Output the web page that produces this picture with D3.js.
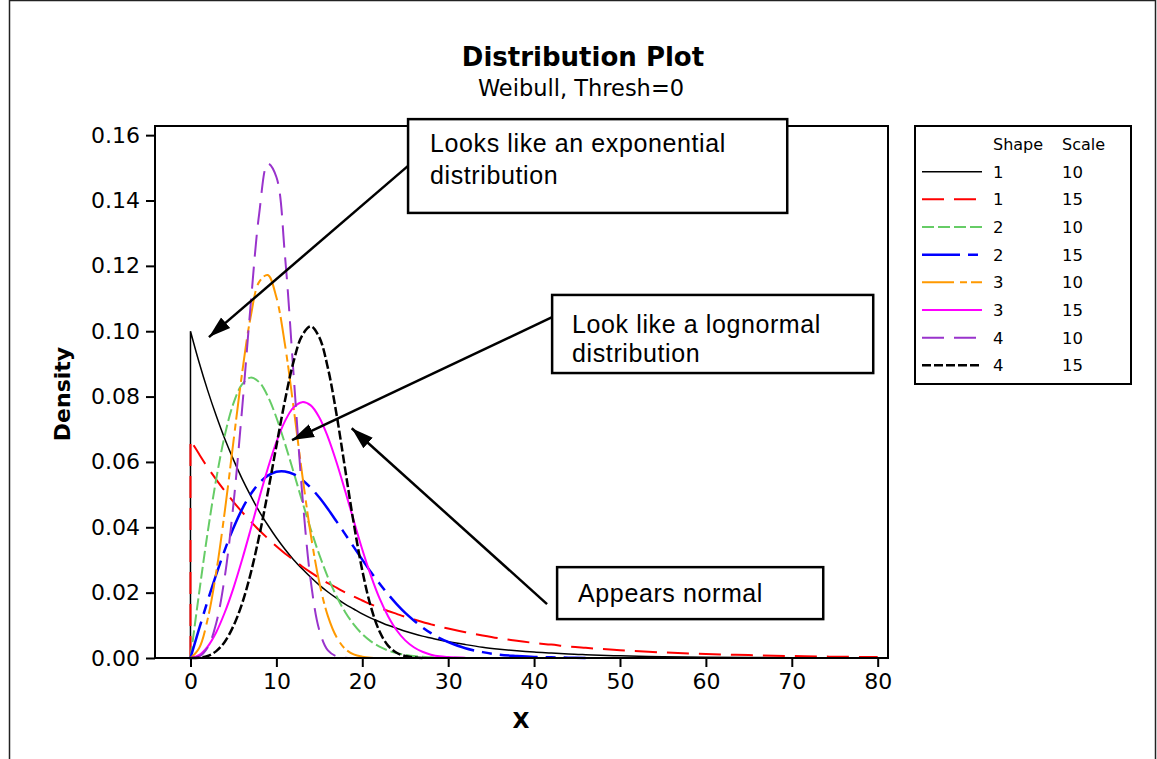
<!DOCTYPE html>
<html><head><meta charset="utf-8">
<script src="https://cdn.jsdelivr.net/npm/d3@7"></script>
<style>body{margin:0;background:#fff} svg{display:block}</style>
</head><body><svg id="c" width="1157" height="759"></svg>
<script>
// ---------- data ----------
const xGrid = [0,1,2,3,4,5,6,7,8,9,10,11,12,13,14,15,16,17,18,19,20,21,22,23,24,25,26,27,28,29,30,
  32,34,36,38,40,42,44,46,50,55,60,65,70,75,80];
const seriesShape = [1,1,2,2,3,3,4,4];
const seriesScale = [10,15,10,15,10,15,10,15];
const dens_1_10 = [0.1000,0.0905,0.0819,0.0741,0.0670,0.0607,0.0549,0.0497,0.0449,0.0407,0.0368,0.0333,0.0301,0.0273,0.0247,0.0223,0.0202,0.0183,0.0165,0.0150,0.0135,0.0122,0.0111,0.0100,0.0091,0.0082,0.0074,0.0067,0.0061,0.0055,0.0050,
  0.0041,0.0033,0.0027,0.0022,0.0018,0.0015,0.0012,0.0010,0.00067,0.00041,0.00025,0.00015,0.00009,0.00006,0.00003];
const dens_1_15 = [0.0667,0.0624,0.0583,0.0546,0.0511,0.0478,0.0447,0.0418,0.0391,0.0366,0.0342,0.0320,0.0300,0.0280,0.0262,0.0245,0.0229,0.0215,0.0201,0.0188,0.0176,0.0164,0.0154,0.0144,0.0135,0.0126,0.0118,0.0110,0.0103,0.0096,0.0090,
  0.0079,0.0069,0.0060,0.0053,0.0046,0.0041,0.0035,0.0031,0.0024,0.0017,0.0012,0.0009,0.0006,0.0004,0.0003];
const dens_2_10 = [0,0.0198,0.0384,0.0548,0.0682,0.0779,0.0837,0.0858,0.0844,0.0801,0.0736,0.0656,0.0569,0.0480,0.0394,0.0316,0.0247,0.0189,0.0141,0.0103,0.0073,0.0051,0.0035,0.0023,0.0015,0.0010,0.0006,0.0004,0.0002,0.0001,0.0001,0];
const dens_2_15 = [0,0.0089,0.0175,0.0256,0.0331,0.0398,0.0455,0.0501,0.0535,0.0558,0.0570,0.0571,0.0563,0.0545,0.0521,0.0491,0.0456,0.0418,0.0379,0.0340,0.0301,0.0263,0.0228,0.0195,0.0165,0.0138,0.0115,0.0094,0.0076,0.0061,0.0049,
  0.0030,0.0018,0.0010,0.0006,0.0003,0.0002,0.0001,0];
const dens_3_10 = [0,0.0030,0.0119,0.0263,0.0450,0.0662,0.0870,0.1043,0.1151,0.1172,0.1104,0.0959,0.0767,0.0563,0.0378,0.0231,0.0128,0.0064,0.0028,0.0011,0.0004,0.0001,0,0,0,0];
const dens_3_15 = [0,0.0009,0.0035,0.0079,0.0140,0.0214,0.0300,0.0393,0.0489,0.0580,0.0661,0.0725,0.0767,0.0783,0.0773,0.0736,0.0676,0.0599,0.0512,0.0421,0.0332,0.0252,0.0183,0.0128,0.0085,0.0054,0.0033,0.0019,0.0010,0.0005,0.0003,0.0001];
const dens_4_10 = [0,0.0004,0.0032,0.0107,0.0250,0.0470,0.0759,0.1079,0.1360,0.1513,0.1472,0.1231,0.0869,0.0505,0.0236,0.0085,0.0023,0.0005,0.0001,0,0];
const dens_4_15 = [0,0.0001,0.0006,0.0021,0.0050,0.0098,0.0166,0.0258,0.0373,0.0506,0.0649,0.0788,0.0907,0.0987,0.1015,0.0981,0.0887,0.0746,0.0579,0.0413,0.0268,0.0157,0.0082,0.0038,0.0016,0.0006,0.0002,0];
const seriesValues = [dens_1_10,dens_1_15,dens_2_10,dens_2_15,dens_3_10,dens_3_15,dens_4_10,dens_4_15];
const xTicks = [0,10,20,30,40,50,60,70,80];
const yTicks = [0,0.02,0.04,0.06,0.08,0.10,0.12,0.14,0.16];
const titleText = "Distribution Plot";
const subtitleText = "Weibull, Thresh=0";
const xTitle = "X", yTitle = "Density";
const legendHeader = ["Shape","Scale"];
// annotation anchors in data units
const annoText = [["Looks like an exponential","distribution"],["Look like a lognormal","distribution"],["Appears normal"]];
const annoBox = [[25.33,69.47,0.1649,0.1362],[42.10,79.48,0.1111,0.0872],[42.68,73.66,0.0278,0.0119]];
const arrowFrom = [[25.33,0.1506],[42.10,0.1043],[41.51,0.0165]];
const arrowTo = [[2.15,0.0982],[11.82,0.0667],[18.77,0.0703]];

// ---------- styles ----------
const styles = [
  {c:'#000000', d:null, w:1.5},
  {c:'#ff0000', d:'22,10', w:2},
  {c:'#66cc66', d:'12,4', w:2},
  {c:'#0000ff', d:'38,8,10,8', w:2.5},
  {c:'#ff9900', d:'32,6,7,4', w:2},
  {c:'#ff00ff', d:null, w:2},
  {c:'#9933cc', d:'22,10', w:2},
  {c:'#000000', d:'9,3', w:2.5}
];
const F = "'DejaVu Sans', Verdana, sans-serif";
const FA = "'Liberation Sans', Arial, sans-serif";

const svg = d3.select('#c');
const L = 155, R = 888, T = 126, B = 658;
const x = d3.scaleLinear().domain([-4.13, 81.2]).range([L, R]);
const y = d3.scaleLinear().domain([0, 0.1628]).range([B, T]);

// outer frame
svg.append('rect').attr('x',9.5).attr('y',0.5).attr('width',1146).attr('height',820)
  .attr('fill','none').attr('stroke','#222').attr('stroke-width',1.5);

// titles
svg.append('text').attr('x',583).attr('y',66).attr('text-anchor','middle')
  .style('font-family',F).style('font-weight','bold').style('font-size','26px').text(titleText);
svg.append('text').attr('x',581).attr('y',96).attr('text-anchor','middle')
  .style('font-family',F).style('font-size','22.5px').text(subtitleText);

// axes
const gx = svg.append('g').attr('transform',`translate(0,${B})`)
  .call(d3.axisBottom(x).tickValues(xTicks).tickSize(9).tickPadding(6).tickFormat(d3.format('d')));
const gy = svg.append('g').attr('transform',`translate(${L},0)`)
  .call(d3.axisLeft(y).tickValues(yTicks).tickSize(9).tickPadding(6).tickFormat(d3.format('.2f')));
[gx,gy].forEach(g=>{
  g.select('.domain').remove();
  g.selectAll('line').attr('stroke','#000').attr('stroke-width',2);
  g.selectAll('text').style('font-family',F).style('font-size','22px').attr('fill','#000');
});

// series
const line = d3.line().x(d=>x(d[0])).y(d=>y(d[1])).curve(d3.curveCatmullRom.alpha(0.5));
seriesValues.forEach((vals,i)=>{
  const pts = vals.map((v,j)=>[xGrid[j], v]);
  const s = line(pts);
  const p = `M${x(xGrid[0])},${y(0)}L` + s.slice(1);
  const st = styles[i];
  svg.append('path').attr('d',p).attr('fill','none').attr('stroke',st.c)
    .attr('stroke-width',st.w).attr('stroke-dasharray',st.d);
});

// plot frame
svg.append('rect').attr('x',L).attr('y',T).attr('width',R-L).attr('height',B-T)
  .attr('fill','none').attr('stroke','#000').attr('stroke-width',2);

// axis titles
svg.append('text').attr('transform',`translate(70,394) rotate(-90)`).attr('text-anchor','middle')
  .style('font-family',F).style('font-weight','bold').style('font-size','22px').text(yTitle);
svg.append('text').attr('x',521).attr('y',728).attr('text-anchor','middle')
  .style('font-family',F).style('font-weight','bold').style('font-size','22px').text(xTitle);

// arrows
const defs = svg.append('defs');
defs.append('marker').attr('id','ah').attr('markerUnits','userSpaceOnUse')
  .attr('markerWidth',24).attr('markerHeight',16).attr('refX',22).attr('refY',8).attr('orient','auto')
  .append('path').attr('d','M0,1 L22,8 L0,15 Z').attr('fill','#000');
arrowFrom.forEach((f,i)=>{
  const t = arrowTo[i];
  svg.append('line').attr('x1',x(f[0])).attr('y1',y(f[1])).attr('x2',x(t[0])).attr('y2',y(t[1]))
    .attr('stroke','#000').attr('stroke-width',2.5).attr('marker-end','url(#ah)');
});

// annotation boxes
const pads = [[22,33,65],[20,38,67],[21,35]];
annoBox.forEach((b,i)=>{
  const x0 = x(b[0]), x1 = x(b[1]), y0 = y(b[2]), y1 = y(b[3]);
  svg.append('rect').attr('x',x0).attr('y',y0).attr('width',x1-x0).attr('height',y1-y0)
    .attr('fill','#fff').attr('stroke','#000').attr('stroke-width',2.5);
  annoText[i].forEach((t,k)=>{
    svg.append('text').attr('x',x0+pads[i][0]).attr('y',y0+pads[i][k+1])
      .style('font-family',FA).style('font-size','25px').style('letter-spacing','0.6px').text(t);
  });
});

// legend
const lg = svg.append('g');
lg.append('rect').attr('x',915).attr('y',126).attr('width',216).attr('height',258)
  .attr('fill','#fff').attr('stroke','#000').attr('stroke-width',2);
lg.append('text').attr('x',993).attr('y',150).style('font-family',F).style('font-size','16px').text(legendHeader[0]);
lg.append('text').attr('x',1062).attr('y',150).style('font-family',F).style('font-size','16px').text(legendHeader[1]);
seriesShape.forEach((s,i)=>{
  const yy = 171.7 + i*27.66;
  const st = styles[i];
  lg.append('line').attr('x1',922).attr('x2',982).attr('y1',yy).attr('y2',yy)
    .attr('stroke',st.c).attr('stroke-width',st.w).attr('stroke-dasharray',st.d);
  lg.append('text').attr('x',993).attr('y',yy+6).style('font-family',F).style('font-size','16.5px').text(s);
  lg.append('text').attr('x',1062).attr('y',yy+6).style('font-family',F).style('font-size','16.5px').text(seriesScale[i]);
});
</script></body></html>
